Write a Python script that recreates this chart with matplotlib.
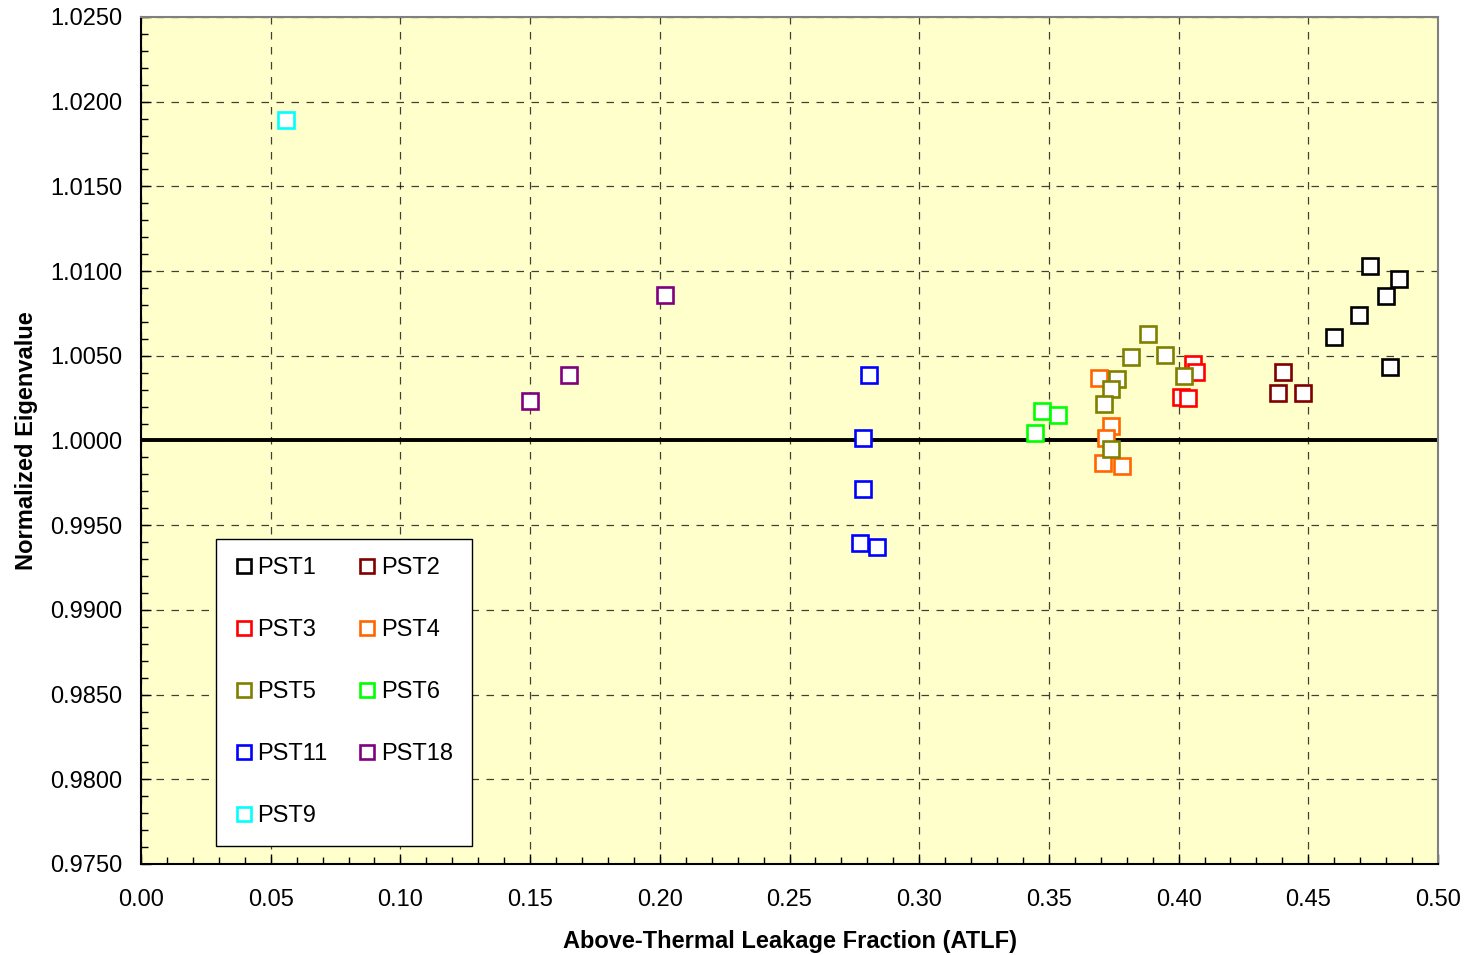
import matplotlib
matplotlib.use("Agg")
import matplotlib.pyplot as plt
from matplotlib.ticker import MultipleLocator, FormatStrFormatter

plt.rcParams['font.family'] = ['Liberation Sans', 'DejaVu Sans']

# Above-thermal leakage fraction (x) and normalized eigenvalue (y) per PST set
pst1_x = [0.4739, 0.4848, 0.4798, 0.4695, 0.4598, 0.4815]
pst1_y = [1.01030, 1.00955, 1.00853, 1.00741, 1.00609, 1.00434]

pst2_x = [0.4401, 0.4382, 0.4478]
pst2_y = [1.00404, 1.00282, 1.00282]

pst3_x = [0.4056, 0.4068, 0.4010, 0.4037]
pst3_y = [1.00453, 1.00403, 1.00259, 1.00251]

pst4_x = [0.3692, 0.3738, 0.3719, 0.3707, 0.3782]
pst4_y = [1.00369, 1.00084, 1.00013, 0.99865, 0.99849]

pst5_x = [0.3882, 0.3815, 0.3949, 0.3763, 0.3741, 0.3712, 0.4020, 0.3738]
pst5_y = [1.00629, 1.00493, 1.00505, 1.00363, 1.00304, 1.00214, 1.00381, 0.99952]

pst6_x = [0.3475, 0.3534, 0.3445]
pst6_y = [1.00176, 1.00151, 1.00043]

pst11_x = [0.2808, 0.2785, 0.2783, 0.2771, 0.2836]
pst11_y = [1.00388, 1.00013, 0.99712, 0.99395, 0.99373]

pst18_x = [0.1498, 0.1651, 0.2020]
pst18_y = [1.00233, 1.00387, 1.00857]

pst9_x = [0.0559]
pst9_y = [1.01892]

series = [
    ("PST1", pst1_x, pst1_y, "#000000"),
    ("PST2", pst2_x, pst2_y, "#800000"),
    ("PST3", pst3_x, pst3_y, "#FF0000"),
    ("PST4", pst4_x, pst4_y, "#FF6600"),
    ("PST5", pst5_x, pst5_y, "#808000"),
    ("PST6", pst6_x, pst6_y, "#00FF00"),
    ("PST11", pst11_x, pst11_y, "#0000FF"),
    ("PST18", pst18_x, pst18_y, "#800080"),
    ("PST9", pst9_x, pst9_y, "#00FFFF"),
]

fig = plt.figure(figsize=(14.66, 9.55), dpi=100)
ax = fig.add_axes([0.0962, 0.0953, 0.8847, 0.8869])
ax.set_facecolor("#FFFFCC")

ax.set_xlim(0.0, 0.5)
ax.set_ylim(0.975, 1.025)

ax.xaxis.set_major_locator(MultipleLocator(0.05))
ax.xaxis.set_minor_locator(MultipleLocator(0.01))
ax.yaxis.set_major_locator(MultipleLocator(0.005))
ax.yaxis.set_minor_locator(MultipleLocator(0.001))
ax.xaxis.set_major_formatter(FormatStrFormatter("%.2f"))
ax.yaxis.set_major_formatter(FormatStrFormatter("%.4f"))

ax.tick_params(which="both", direction="in", top=False, right=False,
               labelsize=17, colors="black")
ax.tick_params(which="major", length=7, width=1)
ax.tick_params(which="minor", length=5, width=1)
ax.tick_params(axis="x", pad=18)
ax.tick_params(axis="y", pad=13.5)

ax.grid(True, which="major", linestyle=(0, (6, 6)), color="black",
        linewidth=0.9, alpha=0.75)
ax.set_axisbelow(True)

ax.axhline(1.0, color="black", linewidth=2.8, zorder=2)

handles = {}
for name, xs, ys, col in series:
    h, = ax.plot(xs, ys, linestyle="none", marker="s", markersize=11,
                 markerfacecolor="white", markeredgecolor=col,
                 markeredgewidth=1.9, label=name, zorder=3)
    handles[name] = h

for side in ["left", "bottom"]:
    ax.spines[side].set_color("black")
    ax.spines[side].set_linewidth(1.5)
for side in ["top", "right"]:
    ax.spines[side].set_color("#808080")
    ax.spines[side].set_linewidth(1.5)

order = ["PST1", "PST3", "PST5", "PST11", "PST9", "PST2", "PST4", "PST6", "PST18"]
leg = ax.legend([handles[n] for n in order], order, ncol=2,
                loc="lower left", bbox_to_anchor=(0.0578, 0.0213),
                borderaxespad=0, fontsize=17, frameon=True, fancybox=False,
                edgecolor="black", framealpha=1.0, labelspacing=1.69,
                handlelength=0.75, handletextpad=0.2, columnspacing=1.3,
                borderpad=0.8, markerscale=0.9)
leg.get_frame().set_linewidth(1.0)
leg.set_zorder(5)

ax.set_xlabel("Above-Thermal Leakage Fraction (ATLF)", fontsize=17,
              fontweight="bold", labelpad=14)
ax.set_ylabel("Normalized Eigenvalue", fontsize=17, fontweight="bold",
              labelpad=8.5)

fig.savefig("out.png", dpi=100, facecolor="white")
